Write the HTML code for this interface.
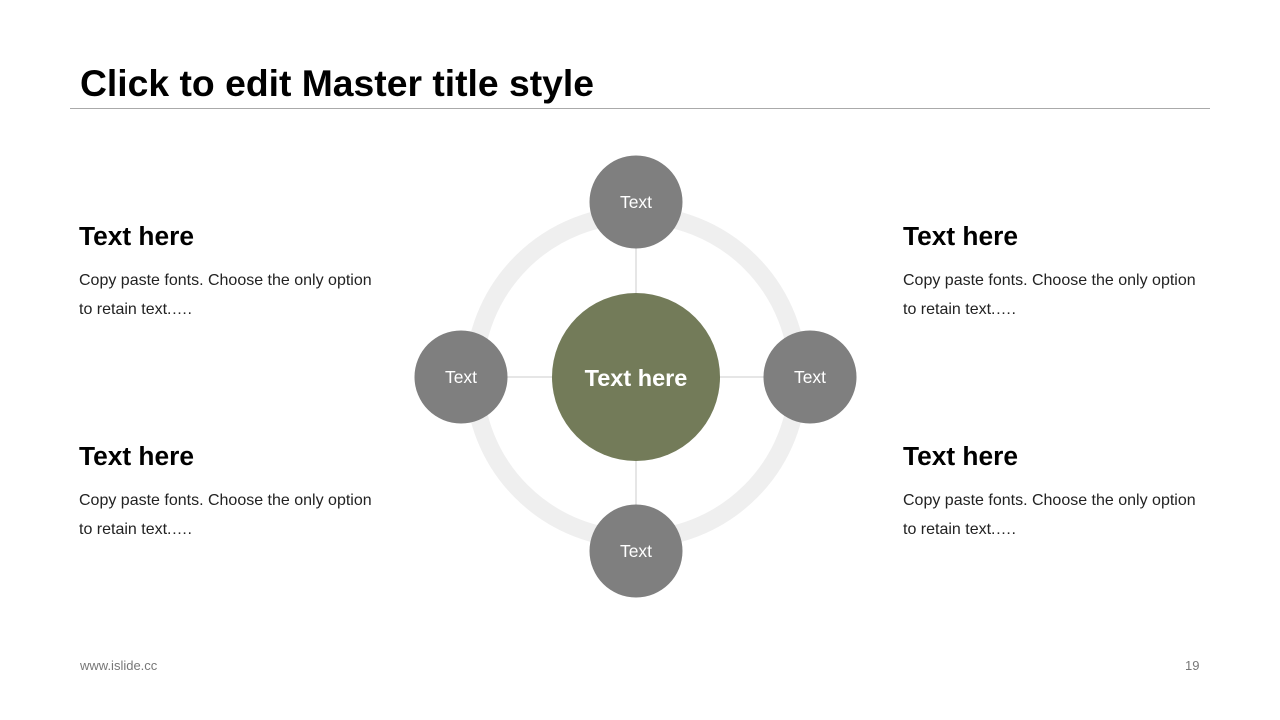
<!DOCTYPE html>
<html><head><style>
body{margin:0;width:1280px;height:720px;background:#fff;font-family:"Liberation Sans",sans-serif;position:relative;overflow:hidden}
.t{position:absolute;left:80px;top:62px;font-size:37.3px;font-weight:bold;color:#000}
.hl{position:absolute;left:70px;top:108px;width:1140px;height:1px;background:#aaa}
.h{position:absolute;font-size:26.3px;font-weight:bold;color:#000}
.p{position:absolute;font-size:16px;line-height:29px;color:#222;width:300px}
.f{position:absolute;top:658px;font-size:13px;color:#777}
</style></head><body>
<div class="t">Click to edit Master title style</div>
<div class="hl"></div>
<div class="h" style="left:79px;top:221px">Text here</div>
<div class="p" style="left:79px;top:266px">Copy paste fonts. Choose the only option to retain text.….</div>
<div class="h" style="left:79px;top:441px">Text here</div>
<div class="p" style="left:79px;top:486px">Copy paste fonts. Choose the only option to retain text.….</div>
<div class="h" style="left:903px;top:221px">Text here</div>
<div class="p" style="left:903px;top:266px">Copy paste fonts. Choose the only option to retain text.….</div>
<div class="h" style="left:903px;top:441px">Text here</div>
<div class="p" style="left:903px;top:486px">Copy paste fonts. Choose the only option to retain text.….</div>
<div class="f" style="left:80px">www.islide.cc</div>
<div class="f" style="left:1185px">19</div>
<svg width="1280" height="720" style="position:absolute;left:0;top:0">
<circle cx="636" cy="377" r="162" fill="none" stroke="#efefef" stroke-width="18"/>
<line x1="636" y1="202" x2="636" y2="551" stroke="#ccc" stroke-width="1"/>
<line x1="461" y1="377" x2="810" y2="377" stroke="#ccc" stroke-width="1"/>
<circle cx="636" cy="377" r="84" fill="#737b59"/>
<g fill="#7f7f7f"><circle cx="636" cy="202" r="46.5"/><circle cx="636" cy="551" r="46.5"/><circle cx="461" cy="377" r="46.5"/><circle cx="810" cy="377" r="46.5"/></g>
<g fill="#fff" font-family="Liberation Sans" font-size="17.5" text-anchor="middle">
<text x="636" y="208">Text</text><text x="636" y="557">Text</text><text x="461" y="383">Text</text><text x="810" y="383">Text</text>
<text x="636" y="386" font-size="23.5" font-weight="bold">Text here</text></g>
</svg>
</body></html>
